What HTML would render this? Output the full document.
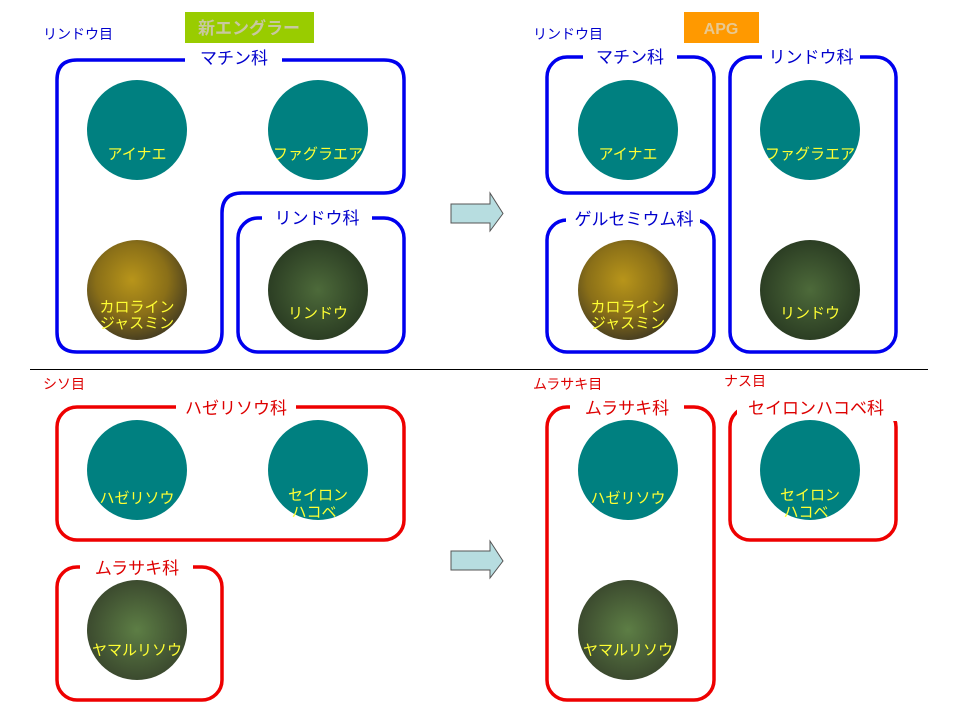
<!DOCTYPE html>
<html><head><meta charset="utf-8"><style>
html,body{margin:0;padding:0;background:#fff;}
svg{display:block;}
text{font-family:"Liberation Sans","Noto Sans CJK JP",sans-serif;}
</style></head><body>
<svg width="960" height="720" viewBox="0 0 960 720" xmlns="http://www.w3.org/2000/svg">
<defs>
<radialGradient id="yel" cx="45%" cy="40%" r="60%"><stop offset="0" stop-color="#b8951a"/><stop offset="0.6" stop-color="#8a6f18"/><stop offset="1" stop-color="#4a4020"/></radialGradient>
<radialGradient id="grn" cx="50%" cy="50%" r="60%"><stop offset="0" stop-color="#4d6a3a"/><stop offset="1" stop-color="#25351f"/></radialGradient>
<radialGradient id="grn2" cx="50%" cy="50%" r="60%"><stop offset="0" stop-color="#5d7e45"/><stop offset="1" stop-color="#35402a"/></radialGradient>
</defs>
<rect x="185" y="12" width="129" height="31" fill="#99cc00"/>
<text x="249" y="34" font-size="17" font-weight="bold" fill="#c8c8a0" text-anchor="middle">新エングラー</text>
<rect x="684" y="12" width="75" height="31" fill="#ff9900"/>
<text x="721" y="34" font-size="16" font-weight="bold" fill="#e8c890" text-anchor="middle">APG</text>

<g font-size="14" fill="#0000cc">
<text x="43" y="39">リンドウ目</text>
<text x="533" y="39">リンドウ目</text>
</g>
<g font-size="14" fill="#dd0000">
<text x="43" y="389">シソ目</text>
<text x="533" y="389">ムラサキ目</text>
<text x="724" y="386">ナス目</text>
</g>

<g fill="none" stroke="#0000ee" stroke-width="3.5">
<path d="M77 60 H384 Q404 60 404 80 V173 Q404 193 384 193 H242 Q222 193 222 213 V332 Q222 352 202 352 H77 Q57 352 57 332 V80 Q57 60 77 60 Z"/>
<rect x="238" y="218" width="166" height="134" rx="20"/>
<rect x="547" y="57" width="167" height="136" rx="20"/>
<rect x="730" y="57" width="166" height="295" rx="20"/>
<rect x="547" y="220" width="167" height="132" rx="20"/>
</g>
<g fill="none" stroke="#ee0000" stroke-width="3.5">
<rect x="57" y="407" width="347" height="133" rx="20"/>
<rect x="57" y="567" width="165" height="133" rx="20"/>
<rect x="547" y="407" width="167" height="293" rx="20"/>
<rect x="730" y="407" width="166" height="133" rx="20"/>
</g>
<g fill="#fff">
<rect x="185" y="52" width="97" height="16"/>
<rect x="262" y="210" width="110" height="16"/>
<rect x="583" y="49" width="94" height="16"/>
<rect x="762" y="49" width="98" height="16"/>
<rect x="566" y="212" width="134" height="16"/>
<rect x="176" y="399" width="120" height="16"/>
<rect x="80" y="559" width="113" height="16"/>
<rect x="570" y="399" width="114" height="16"/>
<rect x="737" y="399" width="163" height="22"/>
</g>
<g font-size="17" fill="#0000cc" text-anchor="middle">
<text x="234" y="64">マチン科</text>
<text x="317" y="224">リンドウ科</text>
<text x="630" y="63">マチン科</text>
<text x="811" y="63">リンドウ科</text>
<text x="634" y="225">ゲルセミウム科</text>
</g>
<g font-size="17" fill="#dd0000" text-anchor="middle">
<text x="236" y="414">ハゼリソウ科</text>
<text x="137" y="574">ムラサキ科</text>
<text x="627" y="414">ムラサキ科</text>
<text x="816" y="414">セイロンハコベ科</text>
</g>

<line x1="30" y1="369.5" x2="928" y2="369.5" stroke="#000" stroke-width="1"/>

<g fill="#b7dde0" stroke="#555" stroke-width="1">
<path d="M451 204 H490 V193 L503 213.5 L490 231 V223 H451 Z"/>
<path d="M451 551 H490 V541 L503 561 L490 578 V570 H451 Z"/>
</g>

<g fill="#008080">
<circle cx="137" cy="130" r="50"/>
<circle cx="318" cy="130" r="50"/>
<circle cx="628" cy="130" r="50"/>
<circle cx="810" cy="130" r="50"/>
<circle cx="137" cy="470" r="50"/>
<circle cx="318" cy="470" r="50"/>
<circle cx="628" cy="470" r="50"/>
<circle cx="810" cy="470" r="50"/>
</g>
<circle cx="137" cy="290" r="50" fill="url(#yel)"/>
<circle cx="628" cy="290" r="50" fill="url(#yel)"/>
<circle cx="318" cy="290" r="50" fill="url(#grn)"/>
<circle cx="810" cy="290" r="50" fill="url(#grn)"/>
<circle cx="137" cy="630" r="50" fill="url(#grn2)"/>
<circle cx="628" cy="630" r="50" fill="url(#grn2)"/>

<g font-size="15" fill="#ffff33" text-anchor="middle">
<text x="137" y="159">アイナエ</text>
<text x="318" y="159">ファグラエア</text>
<text x="628" y="159">アイナエ</text>
<text x="810" y="159">ファグラエア</text>
<text x="137" y="312">カロライン</text>
<text x="137" y="328">ジャスミン</text>
<text x="628" y="312">カロライン</text>
<text x="628" y="328">ジャスミン</text>
<text x="318" y="318">リンドウ</text>
<text x="810" y="318">リンドウ</text>
<text x="137" y="503">ハゼリソウ</text>
<text x="318" y="500">セイロン</text>
<text x="314" y="517">ハコベ</text>
<text x="628" y="503">ハゼリソウ</text>
<text x="810" y="500">セイロン</text>
<text x="806" y="517">ハコベ</text>
<text x="137" y="655">ヤマルリソウ</text>
<text x="628" y="655">ヤマルリソウ</text>
</g>
</svg>
</body></html>
